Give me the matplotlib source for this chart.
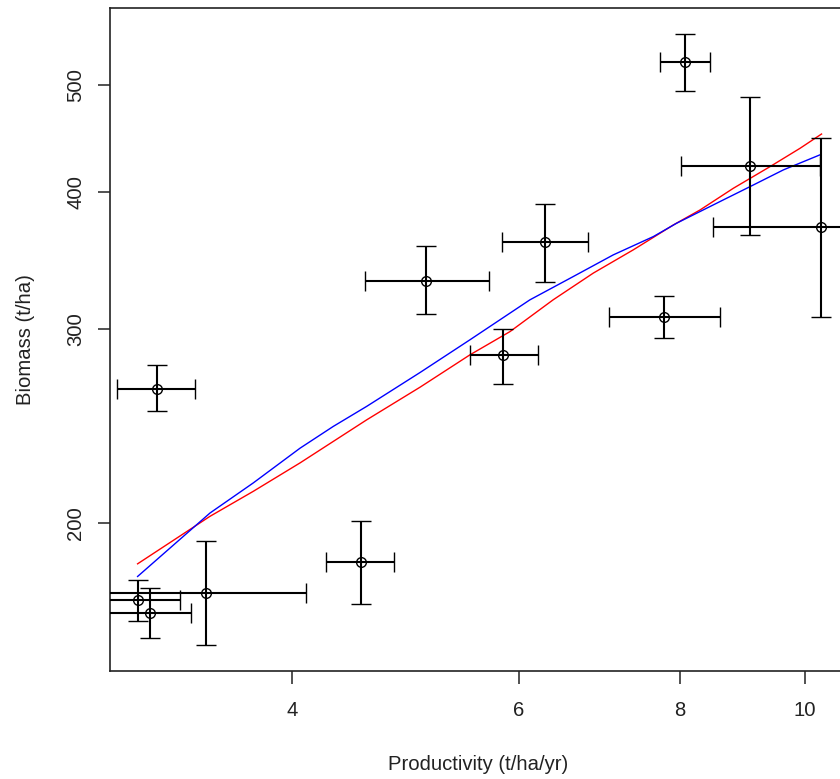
import matplotlib
matplotlib.use("Agg")
import matplotlib.pyplot as plt
import numpy as np

plt.rcParams["font.family"] = ["Liberation Sans", "DejaVu Sans"]

# site estimates with uncertainty ranges
productivity = [3.141, 3.036, 3.104, 3.429, 4.525, 5.083, 6.284, 5.834, 7.771, 10.29, 9.071, 8.071]
prod_lo = [2.928, 2.797, 2.870, 2.757, 4.250, 4.558, 5.824, 5.497, 7.047, 8.486, 8.014, 7.715]
prod_hi = [3.364, 3.275, 3.338, 4.101, 4.800, 5.684, 6.784, 6.206, 8.593, 12.09, 10.278, 8.441]
biomass = [264.8, 170.0, 165.6, 172.6, 184.2, 331.9, 360.1, 283.9, 307.8, 371.4, 422.3, 525.0]
bio_lo = [252.5, 162.9, 157.0, 154.9, 168.8, 309.6, 331.2, 267.7, 294.6, 307.8, 365.2, 494.2]
bio_hi = [278.4, 177.5, 174.5, 192.3, 200.7, 356.9, 390.2, 300.0, 321.8, 448.1, 488.3, 556.8]

# fitted curves
fit_red_x = [3.036, 3.455, 3.733, 4.058, 4.571, 5.029, 5.497, 5.905, 6.377, 6.852,
             7.358, 7.905, 8.291, 8.799, 9.395, 9.912, 10.30]
fit_red_y = [183.5, 202.7, 213.6, 226.7, 248.1, 265.7, 284.3, 298.5, 319.0, 337.4,
             354.2, 373.2, 385.1, 403.0, 421.7, 438.2, 451.5]
fit_blue_x = [3.036, 3.455, 3.733, 4.058, 4.306, 4.571, 5.029, 5.497, 6.118, 6.612,
              7.100, 7.627, 7.953, 8.643, 9.066, 9.621, 10.27]
fit_blue_y = [178.7, 204.1, 217.4, 233.8, 244.7, 255.2, 274.0, 293.4, 319.0, 335.0,
              350.5, 364.2, 374.6, 393.3, 404.4, 418.8, 432.2]

x_ticks = [4, 6, 8, 10]
y_ticks = [200, 300, 400, 500]

W, H = 840, 779
fig = plt.figure(figsize=(W / 100, H / 100), dpi=100)
ax = fig.add_axes([110 / W, (H - 671) / H, 736 / W, 663 / H])

x = np.array(productivity)
y = np.array(biomass)
xerr = [x - np.array(prod_lo), np.array(prod_hi) - x]
yerr = [y - np.array(bio_lo), np.array(bio_hi) - y]

ax.errorbar(x, y, xerr=xerr, yerr=yerr, fmt="o", mfc="none", mec="black",
            ms=7, mew=1.0, ecolor="black", elinewidth=1.5, capsize=7,
            capthick=1.5, zorder=3)

ax.plot(fit_red_x, fit_red_y, color="red", lw=1.0, zorder=2)
ax.plot(fit_blue_x, fit_blue_y, color="blue", lw=1.0, zorder=2)

ax.set_xscale("log")
ax.set_yscale("log")
ax.set_xlim(2.89, 10.76)
ax.set_ylim(146.6, 587.9)

ax.set_xticks(x_ticks)
ax.set_xticklabels([str(v) for v in x_ticks])
ax.set_yticks(y_ticks)
ax.set_yticklabels([str(v) for v in y_ticks], rotation=90, va="center")
ax.minorticks_off()
ax.tick_params(axis="both", length=9, width=1.2, labelsize=14.6,
               color="#333333", labelcolor="#222222")
ax.tick_params(axis="x", pad=12.5)
ax.tick_params(axis="y", pad=9)

for s in ax.spines.values():
    s.set_linewidth(1.2)
    s.set_color("#222222")

ax.set_xlabel("Productivity (t/ha/yr)", fontsize=14.6, labelpad=25, color="#222222")
ax.set_ylabel("Biomass (t/ha)", fontsize=14.6, labelpad=22, color="#222222")

fig.savefig("out.png", dpi=100)
